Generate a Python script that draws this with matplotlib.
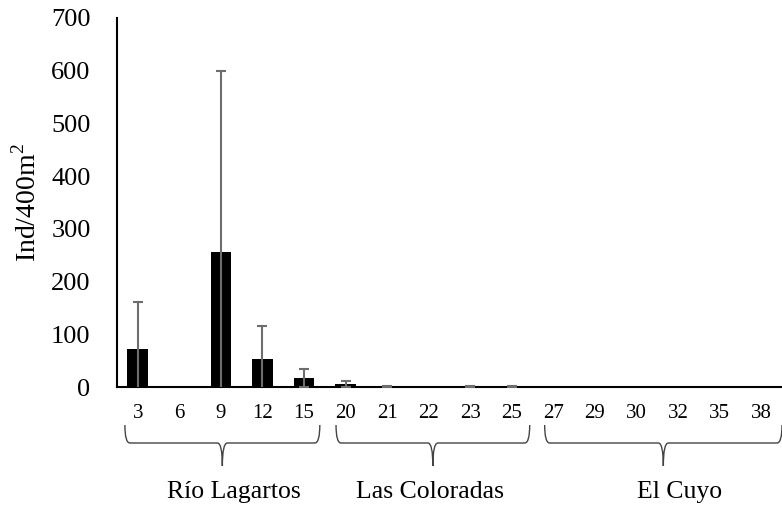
import numpy as np
import matplotlib.pyplot as plt
from matplotlib.path import Path
from matplotlib.patches import PathPatch
import matplotlib.transforms as mtransforms

plt.rcParams['font.family'] = ['Liberation Serif', 'DejaVu Serif']
plt.rcParams['mathtext.fontset'] = 'custom'
plt.rcParams['mathtext.rm'] = 'Liberation Serif'

# datos por estacion
estaciones = ['3', '6', '9', '12', '15', '20', '21', '22', '23', '25',
              '27', '29', '30', '32', '35', '38']
densidad = [72, 0, 257, 54, 18, 6, 1, 0, 1, 1, 0, 0, 0, 0, 0, 0]
error = [90, 0, 343, 62, 17, 6, 1, 0, 1, 1, 0, 0, 0, 0, 0, 0]
sitios = ['Río Lagartos', 'Las Coloradas', 'El Cuyo']
rango_sitios = [(-0.31, 4.38), (4.77, 9.43), (9.79, 15.5)]
pos_nombres = [2.31, 7.03, 13.03]

x = np.arange(len(estaciones))
dens = np.array(densidad)
err = np.array(error)
con_err = err > 0

fig = plt.figure(figsize=(7.82, 5.08), dpi=100)
ax = fig.add_axes([0.1496, 0.238, 0.8504, 0.7266])

ax.bar(x, dens, width=0.5, color='black', zorder=2)
ax.errorbar(x[con_err], dens[con_err], yerr=err[con_err], fmt='none',
            ecolor='#6e6e6e', elinewidth=1.5, capsize=3.6, capthick=1.5,
            zorder=3)

ax.set_xlim(-0.5, 15.5)
ax.set_ylim(0, 700)
ax.set_yticks(range(0, 701, 100))
ax.set_xticks(x)
ax.set_xticklabels(estaciones)
ax.tick_params(axis='y', length=0, pad=19, labelsize=19)
ax.tick_params(axis='x', length=0, pad=12, labelsize=15)
for s in ['top', 'right']:
    ax.spines[s].set_visible(False)
for s in ['left', 'bottom']:
    ax.spines[s].set_linewidth(1.5)
ax.set_ylabel('Ind/400m$^2$', fontsize=20, labelpad=7)

# llaves debajo de las etiquetas
trans = mtransforms.blended_transform_factory(ax.transData, fig.transFigure)
y_tip = 1 - 425 / 508
y_bar = 1 - 443 / 508
y_pt = 1 - 466 / 508
for nombre, (a, b), xn in zip(sitios, rango_sitios, pos_nombres):
    m = (a + b) / 2
    d = 0.12
    verts = [(a, y_tip), (a, y_bar), (a + d, y_bar),
             (m - d, y_bar), (m, y_bar), (m, y_pt),
             (m, y_bar), (m + d, y_bar),
             (b - d, y_bar), (b, y_bar), (b, y_tip)]
    codes = [Path.MOVETO, Path.CURVE3, Path.CURVE3,
             Path.LINETO, Path.CURVE3, Path.CURVE3,
             Path.CURVE3, Path.CURVE3,
             Path.LINETO, Path.CURVE3, Path.CURVE3]
    patch = PathPatch(Path(verts, codes), transform=trans, fill=False,
                      edgecolor='#444444', linewidth=1.0, clip_on=False)
    fig.add_artist(patch)
    fig.text(xn, 1 - 498 / 508, nombre, transform=trans, fontsize=18.5,
             ha='center', va='baseline')

fig.savefig('out.png', dpi=100)
